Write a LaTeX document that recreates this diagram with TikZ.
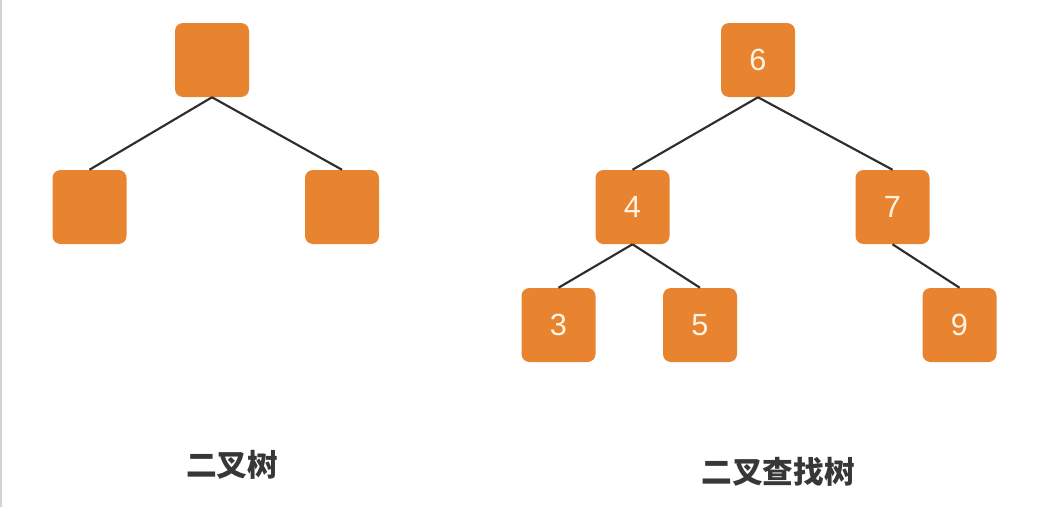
\documentclass[tikz,border=0pt]{standalone}
\usepackage{fontspec}
\setmainfont{Liberation Sans}
\newfontfamily\cjk{Noto Sans CJK SC}
\usepackage{tikz}
\usetikzlibrary{positioning}
\definecolor{treeorange}{RGB}{232,131,48}
\definecolor{numcream}{RGB}{255,243,225}
\definecolor{linegray}{RGB}{45,45,45}
\definecolor{captiongray}{RGB}{55,55,55}
\tikzset{sq/.style = {fill=treeorange, rounded corners=6pt, minimum size=55.5pt,
                      inner sep=0, text=numcream, font=\fontsize{23}{23}\selectfont}}
\tikzset{link/.style = {draw=linegray, line width=1.6pt}}
\tikzset{caption/.style = {text=captiongray, font=\cjk\bfseries\fontsize{23}{23}\selectfont}}

\begin{document}
\begin{tikzpicture}[x=0.75pt, y=-0.75pt]
    \useasboundingbox (0, 0) rectangle (1054, 507);
    \draw [gray!35, line width=2pt] (1, 0) -- (1, 507);

    % plain binary tree
    \node [sq] (root) at (212, 60) {};
    \node [sq] (left) at (89.5, 207) {};
    \node [sq] (right) at (342, 207) {};
    \draw [link] (root.south) -- (left.north);
    \draw [link] (root.south) -- (right.north);
    \node [caption] (bt) at (232, 465) {二叉树};

    % search tree
    \node [sq] (n6) at (758, 60) {6};
    \node [sq] (n4) at (632.5, 207) {4};
    \node [sq] (n7) at (892.5, 207) {7};
    \node [sq] (n3) at (558.5, 325) {3};
    \node [sq] (n5) at (700, 325) {5};
    \node [sq] (n9) at (959.5, 325) {9};
    \draw [link] (n6.south) -- (n4.north);
    \draw [link] (n6.south) -- (n7.north);
    \draw [link] (n4.south) -- (n3.north);
    \draw [link] (n4.south) -- (n5.north);
    \draw [link] (n7.south) -- (n9.north);
    \node [caption] (bst) at (778, 472) {二叉查找树};
  \end{tikzpicture}
\end{document}
